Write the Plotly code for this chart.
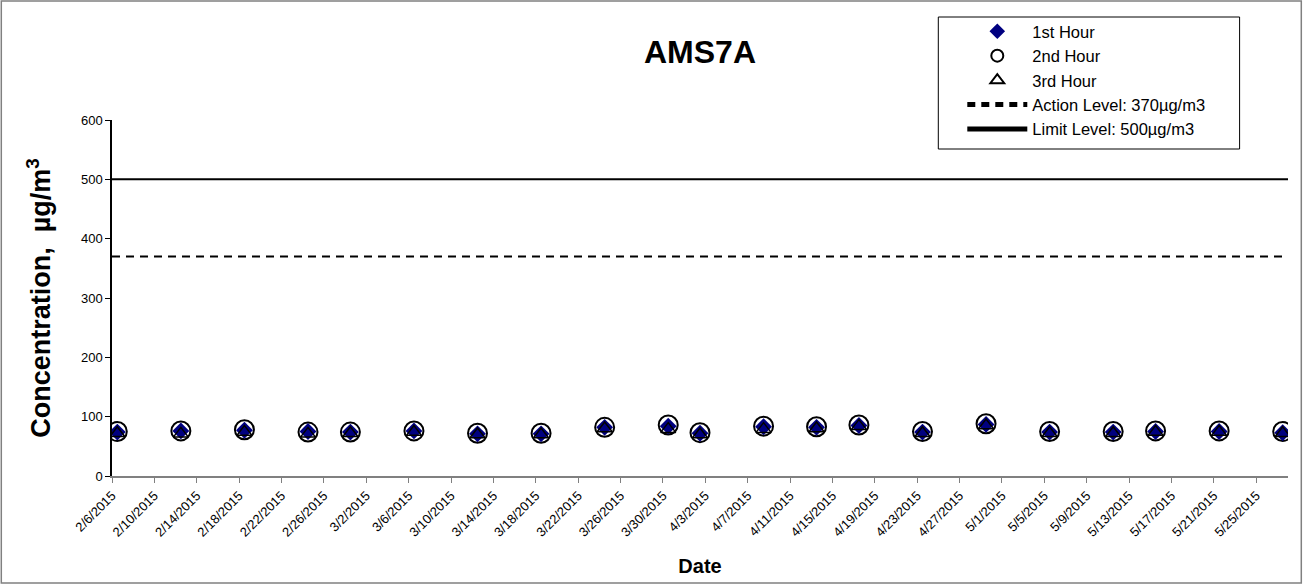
import plotly.graph_objects as go

# ---- data ----
dates = ["2015-02-06", "2015-02-12", "2015-02-18", "2015-02-24", "2015-02-28",
         "2015-03-06", "2015-03-12", "2015-03-18", "2015-03-24", "2015-03-30",
         "2015-04-02", "2015-04-08", "2015-04-13", "2015-04-17", "2015-04-23",
         "2015-04-29", "2015-05-05", "2015-05-11", "2015-05-15", "2015-05-21",
         "2015-05-27"]
hour1 = [74, 76, 77, 75, 74, 76, 71, 71, 82, 84, 72, 83, 82, 85, 74, 87, 74, 74, 75, 75, 73]
hour2 = [75, 76, 78, 74, 74, 76, 72, 72, 82, 86, 73, 84, 83, 86, 75, 88, 75, 75, 76, 76, 75]
hour3 = [72, 71, 74, 71, 72, 74, 70, 70, 80, 79, 70, 79, 80, 84, 72, 85, 72, 72, 74, 74, 72]
level_dates = ["2015-02-06", "2015-05-28"]
action_level = [370, 370]
limit_level = [500, 500]
x_range = ["2015-02-06", "2015-05-28"]
y_range = [0, 600]

FONT = "Arial, Liberation Sans, sans-serif"
DAY = 86400000

fig = go.Figure()
fig.add_trace(go.Scatter(
    x=dates, y=hour2, name="2nd Hour", mode="markers", legendrank=2, legendgroup="b",
    xperiod=DAY, xperiodalignment="middle",
    marker=dict(symbol="circle", size=19, color="rgba(0,0,0,0)",
                line=dict(color="black", width=2))))
fig.add_trace(go.Scatter(
    x=dates, y=hour1, name="1st Hour", mode="markers", legendrank=1, legendgroup="a",
    xperiod=DAY, xperiodalignment="middle",
    marker=dict(symbol="diamond", size=13, color="#000080",
                line=dict(color="#000080", width=0))))
fig.add_trace(go.Scatter(
    x=dates, y=hour3, name="3rd Hour", mode="markers", legendrank=3, legendgroup="c",
    xperiod=DAY, xperiodalignment="middle",
    marker=dict(symbol="triangle-up-open", size=13, color="black",
                line=dict(color="black", width=1.5))))
fig.add_trace(go.Scatter(
    x=level_dates, y=action_level, name="Action Level: 370µg/m3", mode="lines",
    legendrank=4, legendgroup="d",
    line=dict(color="black", width=2, dash="8px,6px")))
fig.add_trace(go.Scatter(
    x=level_dates, y=limit_level, name="Limit Level: 500µg/m3", mode="lines",
    legendrank=5, legendgroup="e",
    line=dict(color="black", width=2)))

L, R, T, B = 111.7, 15.3, 120, 109
W, H = 1303, 585
pw = W - L - R
ph = H - T - B

def px(x):
    return (x - L) / pw

def py(y):
    return (H - B - y) / ph

fig.update_layout(
    width=W, height=H,
    margin=dict(l=L, r=R, t=T, b=B),
    paper_bgcolor="white", plot_bgcolor="white",
    font=dict(family=FONT, color="black", size=12),
    title=dict(text="<b>AMS7A</b>", x=px(699.7), xref="paper", xanchor="center",
               y=1 - 52 / H, yanchor="middle", font=dict(size=32, family=FONT, color="black")),
    showlegend=True,
    legend=dict(x=px(962), y=py(14), xanchor="left", yanchor="top",
                bgcolor="rgba(0,0,0,0)", borderwidth=0,
                font=dict(size=16.5, family=FONT, color="black"),
                itemsizing="constant", itemwidth=60, tracegroupgap=0,
                traceorder="grouped"),
    shapes=[
        dict(type="rect", xref="paper", yref="paper",
             x0=px(938), x1=px(1239.3), y0=py(149), y1=py(17),
             line=dict(color="black", width=1), fillcolor="rgba(0,0,0,0)"),
        dict(type="rect", xref="paper", yref="paper",
             x0=px(1), x1=px(1301), y0=py(583), y1=py(1),
             line=dict(color="#808080", width=1.5), fillcolor="rgba(0,0,0,0)"),
    ],
)

fig.update_xaxes(
    type="date", range=x_range, tick0="2015-02-06", dtick=4 * DAY,
    tickformat="%-m/%-d/%Y", tickangle=-45,
    tickfont=dict(size=13, family=FONT, color="black"),
    ticks="outside", ticklen=5, tickcolor="#808080",
    showline=True, linecolor="#808080", linewidth=2, showgrid=False, zeroline=False,
    title=dict(text="<b>Date</b>", font=dict(size=20, family=FONT, color="black"), standoff=20),
)
fig.update_yaxes(
    range=y_range, dtick=100, tick0=0,
    tickfont=dict(size=13, family=FONT, color="black"),
    ticks="outside", ticklen=5, tickcolor="black",
    showline=True, linecolor="black", linewidth=1.5, showgrid=False, zeroline=False,
    title=dict(text="<b>Concentration,  µg/m<sup>3</sup></b>",
               font=dict(size=27, family=FONT, color="black"), standoff=22),
)

fig.write_html("out.html", config={"displayModeBar": False},
               post_script="document.body.style.margin='0';")
